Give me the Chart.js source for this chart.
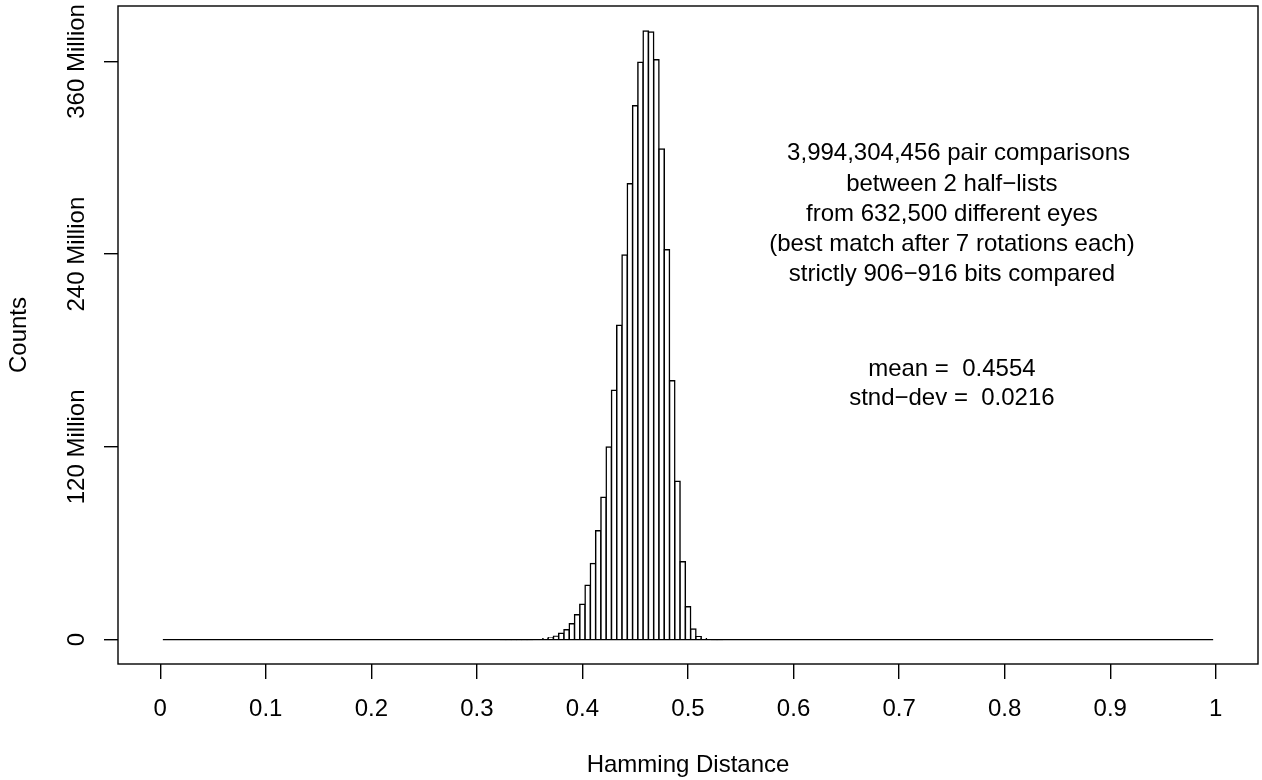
<!DOCTYPE html>
<html>
<head>
<meta charset="utf-8">
<title>Hamming Distance histogram</title>
<script src="https://cdn.jsdelivr.net/npm/chart.js@4.4.1/dist/chart.umd.min.js"></script>
<style>
  html, body { margin: 0; padding: 0; background: #fff; }
  canvas { display: block; }
</style>
</head>
<body>
<canvas id="histChart" width="1262" height="780"></canvas>
<script>
// bin centres, bins are 0.005 wide; only the non-empty bins are listed
const binCenters = [
    0.325, 0.33, 0.335, 0.34, 0.345, 0.35, 0.355, 0.36, 0.365, 0.37,
    0.375, 0.38, 0.385, 0.39, 0.395, 0.40, 0.405, 0.41, 0.415, 0.42,
    0.425, 0.43, 0.435, 0.44, 0.445, 0.45, 0.455, 0.46, 0.465, 0.47,
    0.475, 0.48, 0.485, 0.49, 0.495, 0.50, 0.505, 0.51, 0.515, 0.52,
    0.525, 0.53
];
// counts per bin, in millions
const binCounts = [
    0.01, 0.02, 0.03, 0.05, 0.08, 0.12, 0.2, 0.3, 0.5, 1.2,
    2.1, 3.9, 6.2, 9.9, 15.5, 22.0, 33.8, 47.3, 67.8, 88.6,
    119.9, 155.2, 195.7, 239.5, 283.8, 332.4, 359.4, 378.9, 378.3, 361.0,
    305.4, 242.8, 161.2, 98.6, 48.5, 20.5, 6.6, 1.8, 0.5, 0.15,
    0.04, 0.01
];
// first and last break of the histogram (empty bins show as a flat line)
const breaksStart = 0.0025;
const breaksEnd = 0.9975;

const xTicks = [0, 0.1, 0.2, 0.3, 0.4, 0.5, 0.6, 0.7, 0.8, 0.9, 1];
const xTickLabels = ['0', '0.1', '0.2', '0.3', '0.4', '0.5', '0.6', '0.7', '0.8', '0.9', '1'];
const yTicks = [0, 120, 240, 360];
const yTickLabels = ['0', '120 Million', '240 Million', '360 Million'];

const infoLines = [
    '  3,994,304,456 pair comparisons',
    'between 2 half\u2212lists',
    'from 632,500 different eyes',
    '(best match after 7 rotations each)',
    'strictly 906\u2212916 bits compared'
];
const statLines = ['mean =  0.4554', 'stnd\u2212dev =  0.0216'];

const FONT = '"Liberation Sans", Arial, Helvetica, sans-serif';

// box round the plot, rotated y labels and the text block
const framePlugin = {
    id: 'frame',
    afterDraw(chart) {
        const { ctx, chartArea: a, scales: { x, y } } = chart;
        ctx.save();
        ctx.strokeStyle = '#000';
        ctx.lineWidth = 1.4;
        ctx.strokeRect(a.left, a.top, a.right - a.left, a.bottom - a.top);

        ctx.fillStyle = '#000';
        ctx.font = '24px ' + FONT;
        ctx.textAlign = 'center';
        ctx.textBaseline = 'alphabetic';

        yTicks.forEach((v, i) => {
            ctx.save();
            ctx.translate(a.left - 34.5, y.getPixelForValue(v));
            ctx.rotate(-Math.PI / 2);
            ctx.fillText(yTickLabels[i], 0, 0);
            ctx.restore();
        });

        const tx = x.getPixelForValue(0.75);
        let ty = y.getPixelForValue(298.4);
        infoLines.forEach((s, i) => ctx.fillText(s, tx, ty + i * 30.2));
        ty = y.getPixelForValue(163.9);
        statLines.forEach((s, i) => ctx.fillText(s, tx, ty + i * 28.2));
        ctx.restore();
    }
};

new Chart(document.getElementById('histChart'), {
    type: 'bar',
    data: {
        datasets: [
            {
                type: 'line',
                data: [{ x: breaksStart, y: 0 }, { x: breaksEnd, y: 0 }],
                borderColor: '#000',
                borderWidth: 1.4,
                pointRadius: 0,
                order: 0
            },
            {
                data: binCenters.map((c, i) => ({ x: c, y: binCounts[i] })),
                backgroundColor: '#fff',
                borderColor: '#000',
                borderWidth: 1.5,
                inflateAmount: 0.75,
                barPercentage: 1,
                categoryPercentage: 1,
                order: 1
            }
        ]
    },
    options: {
        responsive: false,
        animation: false,
        devicePixelRatio: 1,
        layout: { padding: { top: 6, right: 4, left: 0, bottom: 0 } },
        plugins: {
            legend: { display: false },
            tooltip: { enabled: false }
        },
        scales: {
            x: {
                type: 'linear',
                min: -0.04,
                max: 1.04,
                offset: false,
                afterBuildTicks: s => { s.ticks = xTicks.map(v => ({ value: v })); },
                afterFit: s => { s.height = 116; },
                ticks: {
                    autoSkip: false,
                    maxRotation: 0,
                    padding: 15.5,
                    color: '#000',
                    font: { size: 24, family: FONT },
                    callback: (v, i) => xTickLabels[i]
                },
                grid: { drawOnChartArea: false, tickLength: 15, color: '#000', lineWidth: 1.4, offset: false },
                border: { display: false },
                title: {
                    display: true,
                    text: 'Hamming Distance',
                    color: '#000',
                    font: { size: 24, family: FONT },
                    padding: { top: 0, bottom: 0 }
                }
            },
            y: {
                type: 'linear',
                min: -15.2,
                max: 394.5,
                afterBuildTicks: s => { s.ticks = yTicks.map(v => ({ value: v })); },
                afterFit: s => { s.width = 118; },
                ticks: { display: false },
                grid: { drawOnChartArea: false, tickLength: 14, color: '#000', lineWidth: 1.4 },
                border: { display: false },
                title: {
                    display: true,
                    text: 'Counts',
                    color: '#000',
                    font: { size: 24, family: FONT },
                    padding: { top: 4.5, bottom: 0 }
                }
            }
        }
    },
    plugins: [framePlugin]
});
</script>
</body>
</html>
